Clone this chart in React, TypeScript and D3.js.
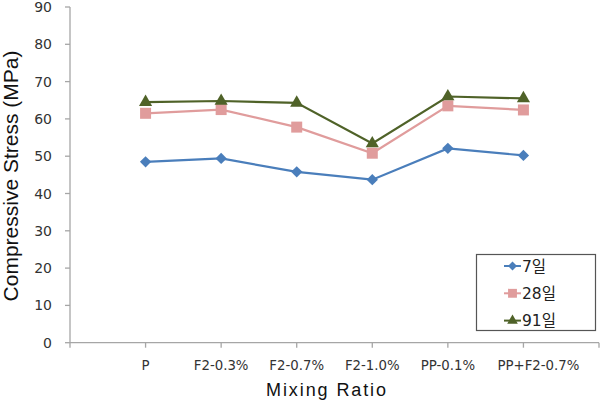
import React, { useEffect, useRef } from "react";
import * as d3 from "d3";

const categories = ["P", "F2-0.3%", "F2-0.7%", "F2-1.0%", "PP-0.1%", "PP+F2-0.7%"];
const day7 = [48.5, 49.4, 45.8, 43.7, 52.1, 50.2];
const day28 = [61.5, 62.5, 57.8, 50.8, 63.5, 62.4];
const day91 = [64.5, 64.8, 64.3, 53.4, 66.0, 65.5];
const yTicks = [0, 10, 20, 30, 40, 50, 60, 70, 80, 90];

const series = [
  { name: "7일", values: day7, color: "#4a7ebb", marker: d3.symbolSquare, size: 64, rotate: 45 },
  { name: "28일", values: day28, color: "#e09c9c", marker: d3.symbolSquare, size: 121, rotate: 0 },
  { name: "91일", values: day91, color: "#4f6228", marker: d3.symbolTriangle, size: 75, rotate: 0 },
];

const W = 600;
const H = 403;
const tickFont = "'DejaVu Sans', 'Noto Sans CJK KR', sans-serif";
const titleFont = "'Liberation Sans', Arial, sans-serif";

const App = () => {
  const ref = useRef<SVGSVGElement>(null);

  useEffect(() => {
    const svg = d3.select(ref.current);
    svg.selectAll("*").remove();

    // slot 0 is left empty, categories sit on 1..6, axis runs to slot 7
    const x = d3.scaleLinear().domain([0, categories.length + 1]).range([70, 599]);
    const y = d3.scaleLinear().domain([0, 90]).range([342.7, 7]);
    const axisColor = "#a6a6a6";

    // y axis
    const yAxis = svg.append("g").attr("transform", `translate(${x(0)},0)`);
    yAxis.append("line").attr("y1", y(0)).attr("y2", y(90)).attr("stroke", axisColor).attr("stroke-width", 1.3);
    yTicks.forEach((t) => {
      yAxis.append("line").attr("x1", -5).attr("x2", 0).attr("y1", y(t)).attr("y2", y(t))
        .attr("stroke", axisColor).attr("stroke-width", 1.3);
      yAxis.append("text").attr("x", -18).attr("y", y(t)).attr("dy", "0.36em")
        .attr("text-anchor", "end").attr("font-family", tickFont).attr("font-size", 14)
        .attr("fill", "#333").text(t);
    });

    // x axis
    const xAxis = svg.append("g");
    xAxis.append("line").attr("x1", x(0)).attr("x2", x(categories.length + 1))
      .attr("y1", y(0)).attr("y2", y(0)).attr("stroke", axisColor).attr("stroke-width", 1.3);
    d3.range(categories.length + 2).forEach((i) => {
      xAxis.append("line").attr("x1", x(i)).attr("x2", x(i)).attr("y1", y(0)).attr("y2", y(0) + 5)
        .attr("stroke", axisColor).attr("stroke-width", 1.3);
    });
    categories.forEach((c, i) => {
      // the long last label is nudged right to clear its neighbour
      const shift = i === categories.length - 1 ? 15 : 0;
      xAxis.append("text").attr("x", x(i + 1) + shift).attr("y", 369.5)
        .attr("text-anchor", "middle").attr("font-family", tickFont).attr("font-size", 13.3)
        .attr("fill", "#333").text(c);
    });

    // axis titles
    svg.append("text").attr("x", 327).attr("y", 396).attr("text-anchor", "middle")
      .attr("font-family", titleFont).attr("font-size", 18)
      .attr("letter-spacing", 1.9).attr("fill", "#111").text("Mixing Ratio");
    svg.append("text").attr("transform", "translate(18,176) rotate(-90)")
      .attr("text-anchor", "middle").attr("font-family", titleFont)
      .attr("font-size", 21).attr("fill", "#111").text("Compressive Stress (MPa)");

    // series lines and markers
    const line = d3.line<number>().x((_, i) => x(i + 1)).y((d) => y(d));
    series.forEach((s) => {
      svg.append("path").datum(s.values).attr("d", line).attr("fill", "none")
        .attr("stroke", s.color).attr("stroke-width", 2.2);
      svg.selectAll(null).data(s.values).enter().append("path")
        .attr("transform", (d, i) => `translate(${x(i + 1)},${y(d)}) rotate(${s.rotate})`)
        .attr("d", d3.symbol().type(s.marker).size(s.size)())
        .attr("fill", s.color);
    });

    // legend
    const lg = svg.append("g");
    lg.append("rect").attr("x", 476.5).attr("y", 254.5).attr("width", 119).attr("height", 76)
      .attr("fill", "#fff").attr("stroke", "#555").attr("stroke-width", 1.2);
    series.forEach((s, i) => {
      const ly = 266 + i * 27.3;
      lg.append("line").attr("x1", 504).attr("x2", 521).attr("y1", ly).attr("y2", ly)
        .attr("stroke", s.color).attr("stroke-width", 2);
      lg.append("path").attr("transform", `translate(512.5,${ly}) rotate(${s.rotate})`)
        .attr("d", d3.symbol().type(s.marker).size(s.size * 0.65)()).attr("fill", s.color);
      lg.append("text").attr("x", 522).attr("y", ly).attr("dy", "0.36em")
        .attr("font-family", tickFont).attr("font-size", 15.5).attr("fill", "#222").text(s.name);
    });
  }, []);

  return <svg ref={ref} width={W} height={H} style={{ display: "block", position: "absolute", left: 0, top: 0, background: "#fff" }} />;
};

export default App;
